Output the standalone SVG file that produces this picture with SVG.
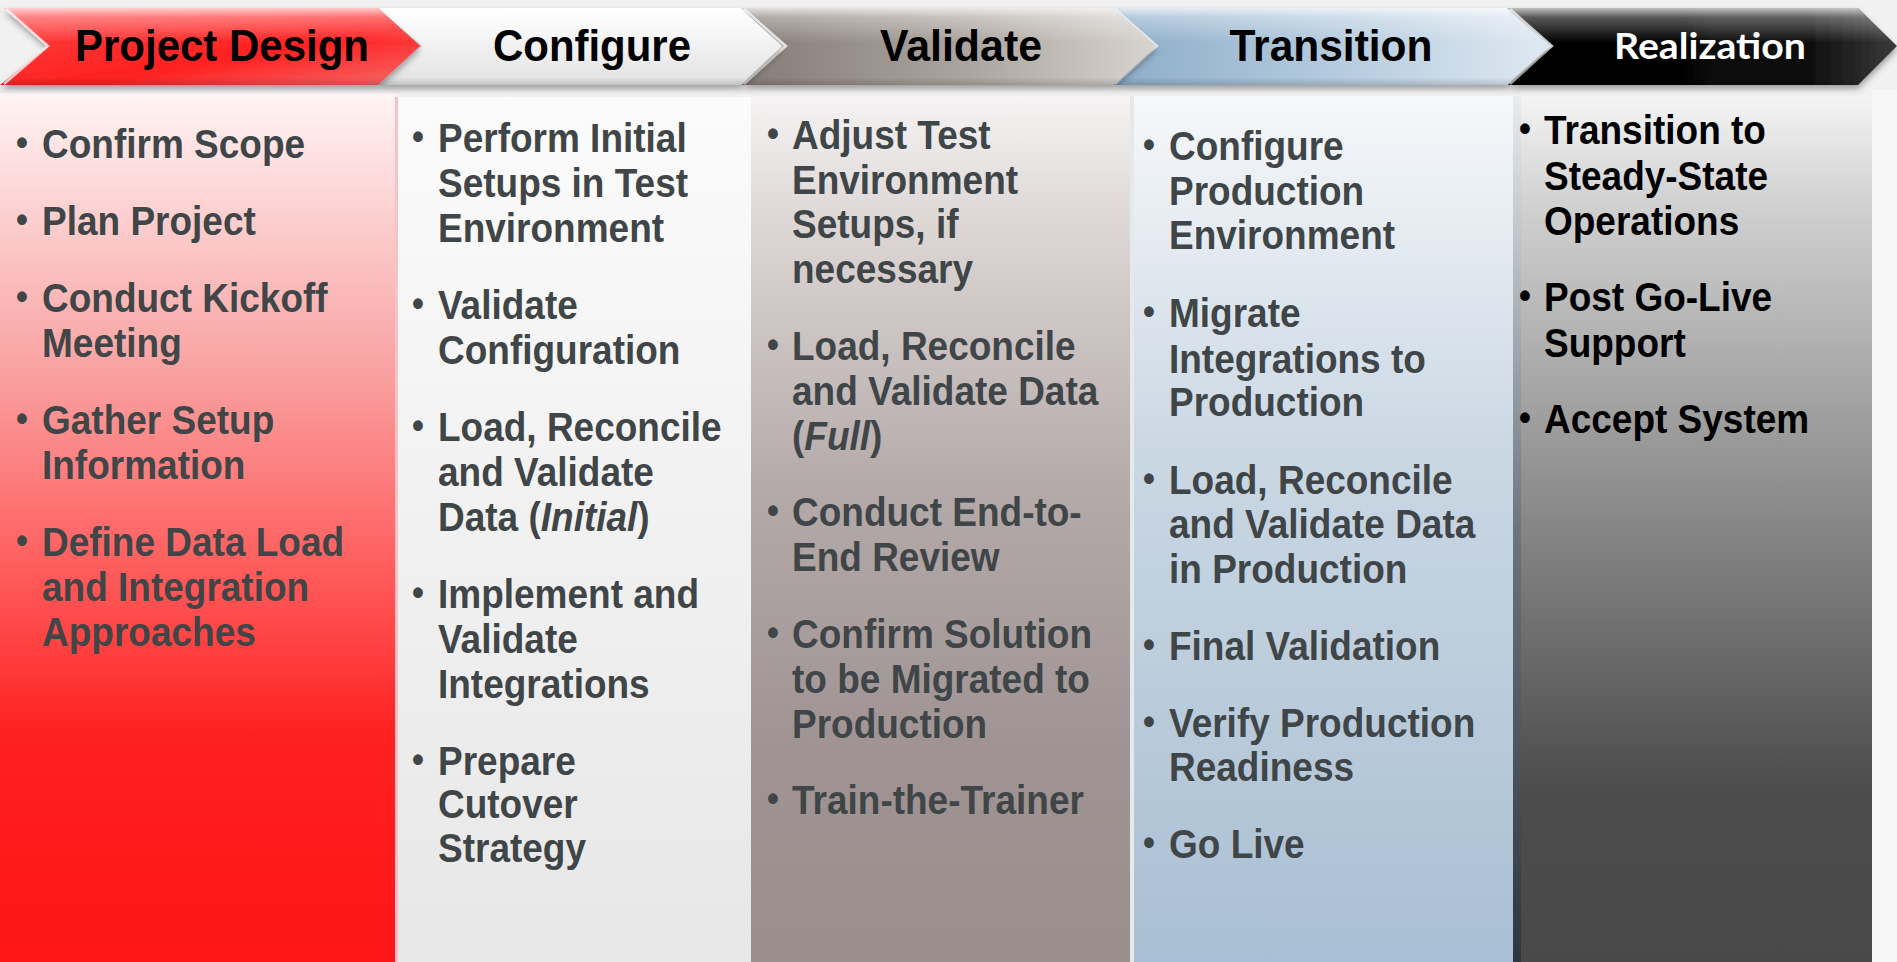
<svg xmlns="http://www.w3.org/2000/svg" width="1897" height="962" viewBox="0 0 1897 962">
<defs>
<style>
.hd{font-family:"Liberation Sans",Arial,sans-serif;font-weight:bold;font-size:44px;fill:#000;text-anchor:middle}
.hdw{font-family:Lato,"Liberation Sans",sans-serif;font-weight:bold;font-size:37px;fill:#fff;text-anchor:middle}
.t{font-family:"Liberation Sans",Arial,sans-serif;font-weight:bold;font-size:37px;fill:#404547}
.tb{font-family:"Liberation Sans",Arial,sans-serif;font-weight:bold;font-size:37px;fill:#000}
.bl{font-family:"Liberation Sans",Arial,sans-serif;font-weight:bold;font-size:34px}
.it{font-style:italic}
.bev{fill:none;stroke:#fff;stroke-opacity:0.75;stroke-width:2.5}
</style>
<filter id="sh" x="-5%" y="-20%" width="110%" height="150%">
<feDropShadow dx="0" dy="4" stdDeviation="3" flood-color="#000" flood-opacity="0.35"/>
</filter>
<linearGradient id="gloss" x1="0" y1="0" x2="0" y2="1">
<stop offset="0" stop-color="#fff" stop-opacity="0.75"/>
<stop offset="0.12" stop-color="#fff" stop-opacity="0.35"/>
<stop offset="0.45" stop-color="#fff" stop-opacity="0"/>
<stop offset="0.9" stop-color="#000" stop-opacity="0"/>
<stop offset="1" stop-color="#000" stop-opacity="0.15"/>
</linearGradient>
<linearGradient id="hRed" x1="0" y1="0" x2="1" y2="1">
<stop offset="0" stop-color="#ff4545"/>
<stop offset="0.6" stop-color="#ff2020"/>
<stop offset="1" stop-color="#f56a6a"/>
</linearGradient>
<linearGradient id="hWhite" x1="0" y1="0" x2="0" y2="1">
<stop offset="0" stop-color="#ffffff"/>
<stop offset="1" stop-color="#e2e2e2"/>
</linearGradient>
<linearGradient id="hTaupe" x1="0" y1="0" x2="1" y2="0">
<stop offset="0" stop-color="#857c77"/>
<stop offset="0.55" stop-color="#aca59f"/>
<stop offset="1" stop-color="#d8d4d0"/>
</linearGradient>
<linearGradient id="hBlue" x1="0" y1="0" x2="1" y2="0">
<stop offset="0" stop-color="#8cadc9"/>
<stop offset="0.55" stop-color="#b8cde0"/>
<stop offset="1" stop-color="#dfe9f2"/>
</linearGradient>
<linearGradient id="hBlack" x1="0" y1="0" x2="1" y2="0">
<stop offset="0" stop-color="#000"/>
<stop offset="0.75" stop-color="#0a0a0a"/>
<stop offset="1" stop-color="#3a3a3a"/>
</linearGradient>
<linearGradient id="c1" x1="0" y1="0" x2="0" y2="1">
<stop offset="0" stop-color="#fff4f4"/>
<stop offset="0.31" stop-color="#f9a4a4"/>
<stop offset="0.52" stop-color="#ff6565"/>
<stop offset="0.74" stop-color="#ff2020"/>
<stop offset="1" stop-color="#ff1515"/>
</linearGradient>
<linearGradient id="c2" x1="0" y1="0" x2="0" y2="1">
<stop offset="0" stop-color="#fbfbfb"/>
<stop offset="1" stop-color="#e7e7e7"/>
</linearGradient>
<linearGradient id="c3" x1="0" y1="0" x2="0" y2="1">
<stop offset="0" stop-color="#f5f3f3"/>
<stop offset="0.15" stop-color="#dcd6d5"/>
<stop offset="0.45" stop-color="#b4aaa9"/>
<stop offset="0.75" stop-color="#9f9493"/>
<stop offset="1" stop-color="#9b8f8e"/>
</linearGradient>
<linearGradient id="c4" x1="0" y1="0" x2="0" y2="1">
<stop offset="0" stop-color="#f6f8fa"/>
<stop offset="0.4" stop-color="#cbd8e4"/>
<stop offset="1" stop-color="#a9bfd3"/>
</linearGradient>
<linearGradient id="c5" x1="0" y1="0" x2="0" y2="1">
<stop offset="0" stop-color="#f4f4f4"/>
<stop offset="0.12" stop-color="#d2d2d2"/>
<stop offset="0.45" stop-color="#8f8f8f"/>
<stop offset="0.8" stop-color="#4c4c4c"/>
<stop offset="1" stop-color="#494949"/>
</linearGradient>
<linearGradient id="c5s" x1="0" y1="0" x2="0" y2="1">
<stop offset="0" stop-color="#e8ecf0"/>
<stop offset="0.5" stop-color="#6b7580"/>
<stop offset="1" stop-color="#2d3640"/>
</linearGradient>
</defs>

<rect x="0" y="0" width="1897" height="962" fill="#f1f1f1"/>
<rect x="1872" y="90" width="25" height="872" fill="#f7f7f7"/>

<!-- column panels -->
<g id="panel-project-design">
<rect x="0" y="93" width="396" height="869" fill="url(#c1)"/>
<rect x="395" y="97" width="3" height="865" fill="#f6c4c4"/>
</g>
<g id="panel-configure">
<rect x="398" y="97" width="353" height="865" fill="url(#c2)"/>
</g>
<g id="panel-validate">
<rect x="751" y="96" width="379" height="866" fill="url(#c3)"/>
<rect x="1130" y="96" width="4" height="866" fill="#e4e9ee"/>
</g>
<g id="panel-transition">
<rect x="1134" y="96" width="379" height="866" fill="url(#c4)"/>
</g>
<g id="panel-realization">
<rect x="1513" y="96" width="8" height="866" fill="url(#c5s)"/>
<rect x="1521" y="96" width="351" height="866" fill="url(#c5)"/>
</g>

<!-- header chevrons -->
<g id="hdr-realization">
<polygon points="1508,8 1858,8 1897,46 1858,85 1508,85 1552,46" fill="url(#hBlack)" filter="url(#sh)"/>
<polygon points="1508,8 1858,8 1897,46 1858,85 1508,85 1552,46" fill="url(#gloss)"/>
<polyline class="bev" points="1510,9 1552,46 1510,84"/>
<text class="hdw" x="1710" y="59" textLength="192" lengthAdjust="spacingAndGlyphs">Realization</text>
</g>
<g id="hdr-transition">
<polygon points="1113,8 1506,8 1550,46 1506,85 1113,85 1157,46" fill="url(#hBlue)" filter="url(#sh)"/>
<polygon points="1113,8 1506,8 1550,46 1506,85 1113,85 1157,46" fill="url(#gloss)"/>
<polyline class="bev" points="1115,9 1157,46 1115,84"/>
<text class="hd" x="1331" y="61" textLength="203" lengthAdjust="spacingAndGlyphs">Transition</text>
</g>
<g id="hdr-validate">
<polygon points="742,8 1113,8 1156,46 1113,85 742,85 786,46" fill="url(#hTaupe)" filter="url(#sh)"/>
<polygon points="742,8 1113,8 1156,46 1113,85 742,85 786,46" fill="url(#gloss)"/>
<polyline class="bev" points="744,9 786,46 744,84"/>
<text class="hd" x="961" y="61" textLength="162" lengthAdjust="spacingAndGlyphs">Validate</text>
</g>
<g id="hdr-configure">
<polygon points="378,8 740,8 782,46 740,85 378,85 422,46" fill="url(#hWhite)" filter="url(#sh)"/>
<polygon points="378,8 740,8 782,46 740,85 378,85 422,46" fill="url(#gloss)"/>
<text class="hd" x="592" y="61" textLength="198" lengthAdjust="spacingAndGlyphs">Configure</text>
</g>
<g id="hdr-project-design">
<polygon points="4,8 378,8 420,46 378,85 0,85 48,46" fill="url(#hRed)" filter="url(#sh)"/>
<polygon points="4,8 378,8 420,46 378,85 0,85 48,46" fill="url(#gloss)"/>
<polyline class="bev" points="6,9 48,46 4,84"/>
<text class="hd" x="222" y="61" textLength="294" lengthAdjust="spacingAndGlyphs">Project Design</text>
</g>

<!-- column text -->
<g id="list-project-design" transform="scale(1,1.08)">
<g class="bl" fill="#404547">
<text x="16" y="143.3">•</text>
<text x="16" y="214.6">•</text>
<text x="16" y="285.9">•</text>
<text x="16" y="398.9">•</text>
<text x="16" y="511.8">•</text>
</g>
<text class="t" x="42" y="146.3">Confirm Scope</text>
<text class="t" x="42" y="217.6">Plan Project</text>
<text class="t" x="42" y="288.9">Conduct Kickoff</text>
<text class="t" x="42" y="330.6">Meeting</text>
<text class="t" x="42" y="401.9">Gather Setup</text>
<text class="t" x="42" y="443.5">Information</text>
<text class="t" x="42" y="514.8">Define Data Load</text>
<text class="t" x="42" y="556.5">and Integration</text>
<text class="t" x="42" y="598.1">Approaches</text>
</g>

<g id="list-configure" transform="scale(1,1.08)">
<g class="bl" fill="#404547">
<text x="412" y="137.7">•</text>
<text x="412" y="292.4">•</text>
<text x="412" y="405.3">•</text>
<text x="412" y="560">•</text>
<text x="412" y="714.6">•</text>
</g>
<text class="t" x="438" y="140.7">Perform Initial</text>
<text class="t" x="438" y="182.4">Setups in Test</text>
<text class="t" x="438" y="224.1">Environment</text>
<text class="t" x="438" y="295.4">Validate</text>
<text class="t" x="438" y="337">Configuration</text>
<text class="t" x="438" y="408.3">Load, Reconcile</text>
<text class="t" x="438" y="450">and Validate</text>
<text class="t" x="438" y="491.7">Data (<tspan class="it">Initial</tspan>)</text>
<text class="t" x="438" y="563">Implement and</text>
<text class="t" x="438" y="604.6">Validate</text>
<text class="t" x="438" y="646.3">Integrations</text>
<text class="t" x="438" y="717.6">Prepare</text>
<text class="t" x="438" y="757.4">Cutover</text>
<text class="t" x="438" y="798.1">Strategy</text>
</g>

<g id="list-validate" transform="scale(1,1.08)">
<g class="bl" fill="#404547">
<text x="767" y="135">•</text>
<text x="767" y="330.3">•</text>
<text x="767" y="484">•</text>
<text x="767" y="597">•</text>
<text x="767" y="750.7">•</text>
</g>
<text class="t" x="792" y="138">Adjust Test</text>
<text class="t" x="792" y="179.6">Environment</text>
<text class="t" x="792" y="220.4">Setups, if</text>
<text class="t" x="792" y="262">necessary</text>
<text class="t" x="792" y="333.3">Load, Reconcile</text>
<text class="t" x="792" y="375">and Validate Data</text>
<text class="t" x="792" y="416.7">(<tspan class="it">Full</tspan>)</text>
<text class="t" x="792" y="487">Conduct End-to-</text>
<text class="t" x="792" y="528.7">End Review</text>
<text class="t" x="792" y="600">Confirm Solution</text>
<text class="t" x="792" y="641.7">to be Migrated to</text>
<text class="t" x="792" y="683.3">Production</text>
<text class="t" x="792" y="753.7">Train-the-Trainer</text>
</g>

<g id="list-transition" transform="scale(1,1.08)">
<g class="bl" fill="#404547">
<text x="1143" y="145.1">•</text>
<text x="1143" y="299.8">•</text>
<text x="1143" y="454.4">•</text>
<text x="1143" y="608.1">•</text>
<text x="1143" y="679.4">•</text>
<text x="1143" y="791.4">•</text>
</g>
<text class="t" x="1169" y="148.1">Configure</text>
<text class="t" x="1169" y="189.8">Production</text>
<text class="t" x="1169" y="230.6">Environment</text>
<text class="t" x="1169" y="302.8">Migrate</text>
<text class="t" x="1169" y="345.4">Integrations to</text>
<text class="t" x="1169" y="385.2">Production</text>
<text class="t" x="1169" y="457.4">Load, Reconcile</text>
<text class="t" x="1169" y="498.1">and Validate Data</text>
<text class="t" x="1169" y="539.8">in Production</text>
<text class="t" x="1169" y="611.1">Final Validation</text>
<text class="t" x="1169" y="682.4">Verify Production</text>
<text class="t" x="1169" y="723.1">Readiness</text>
<text class="t" x="1169" y="794.4">Go Live</text>
</g>

<g id="list-realization" transform="scale(1,1.08)">
<g class="bl" fill="#000">
<text x="1519" y="130.3">•</text>
<text x="1519" y="285">•</text>
<text x="1519" y="397.9">•</text>
</g>
<text class="tb" x="1544" y="133.3">Transition to</text>
<text class="tb" x="1544" y="175.9">Steady-State</text>
<text class="tb" x="1544" y="217.6">Operations</text>
<text class="tb" x="1544" y="288">Post Go-Live</text>
<text class="tb" x="1544" y="330.6">Support</text>
<text class="tb" x="1544" y="400.9">Accept System</text>
</g>
</svg>
